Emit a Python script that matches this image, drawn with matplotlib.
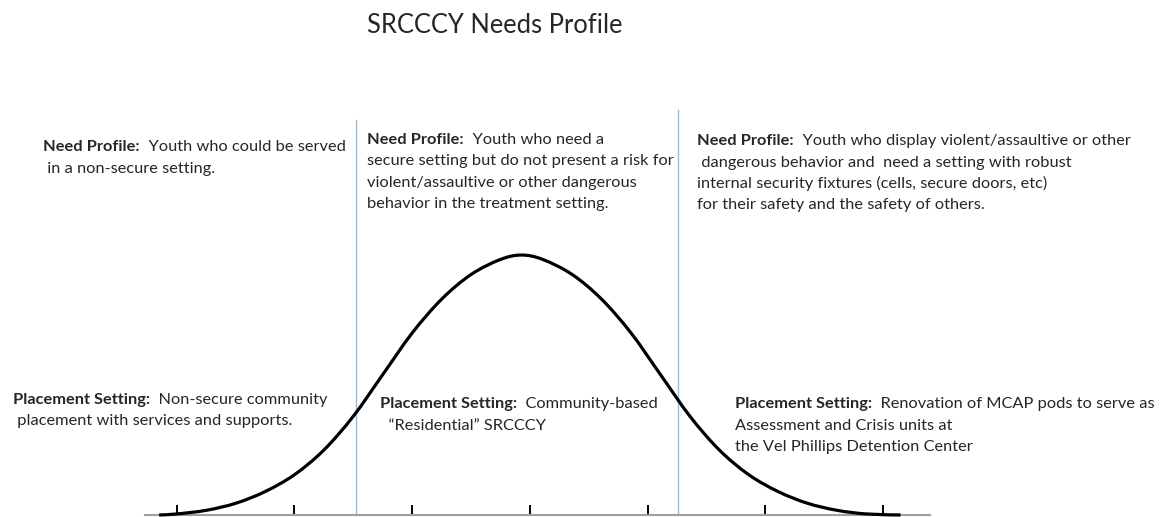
import matplotlib
matplotlib.use('Agg')
import matplotlib.pyplot as plt
from matplotlib.path import Path
from matplotlib.patches import PathPatch

# picture size in pixels
W, H = 1167, 517

# bell curve (x in tick units, y relative to peak)
curve_x = [-3.15, -3.0, -2.75, -2.5, -2.25, -2.0, -1.75, -1.5, -1.25, -1.0, -0.75, -0.5, -0.25,
           -0.07, 0.11, 0.36, 0.61, 0.86, 1.11, 1.36, 1.61, 1.86, 2.11, 2.36, 2.61, 2.86, 3.15]
curve_y = [0.0, 0.004, 0.018, 0.045, 0.09, 0.155, 0.25, 0.38, 0.54, 0.70, 0.83, 0.925, 0.983,
           1.0, 0.983, 0.925, 0.83, 0.70, 0.54, 0.38, 0.25, 0.155, 0.09, 0.045, 0.018, 0.004, 0.0]

tick_positions = [-3, -2, -1, 0, 1, 2, 3]
divider_x = [-1.48, 1.26]
divider_top = [1.519, 1.558]

title = 'SRCCCY Needs Profile'

# (x px, baseline px, bold head, rest of first line, following lines)
blocks = [
    (43, 151, 'Need Profile:', '  Youth who could be served',
     [' in a non-secure setting.']),
    (367, 143.5, 'Need Profile:', '  Youth who need a',
     ['secure setting but do not present a risk for',
      'violent/assaultive or other dangerous',
      'behavior in the treatment setting.']),
    (697, 145, 'Need Profile:', '  Youth who display violent/assaultive or other',
     [' dangerous behavior and  need a setting with robust',
      'internal security fixtures (cells, secure doors, etc)',
      'for their safety and the safety of others.']),
    (13, 404, 'Placement Setting:', '  Non-secure community',
     [' placement with services and supports.']),
    (380, 408, 'Placement Setting:', '  Community-based',
     ['  \u201cResidential\u201d SRCCCY']),
    (735, 408, 'Placement Setting:', '  Renovation of MCAP pods to serve as',
     ['Assessment and Crisis units at',
      'the Vel Phillips Detention Center']),
]


def smooth_path(xs, ys):
    # Catmull-Rom through the read points, drawn as cubic Bezier pieces
    verts = [(xs[0], ys[0])]
    codes = [Path.MOVETO]
    n = len(xs)
    for i in range(n - 1):
        x0, y0 = (xs[i - 1], ys[i - 1]) if i > 0 else (xs[i], ys[i])
        x1, y1 = xs[i], ys[i]
        x2, y2 = xs[i + 1], ys[i + 1]
        x3, y3 = (xs[i + 2], ys[i + 2]) if i + 2 < n else (x2, y2)
        verts += [(x1 + (x2 - x0) / 6, y1 + (y2 - y0) / 6),
                  (x2 - (x3 - x1) / 6, y2 - (y3 - y1) / 6),
                  (x2, y2)]
        codes += [Path.CURVE4] * 3
    return Path(verts, codes)


plt.rcParams['font.family'] = ['Lato', 'DejaVu Sans']
text_color = '#262626'

fig = plt.figure(figsize=(W / 100, H / 100), dpi=100)
fig.patch.set_facecolor('white')

# axis box: axis line runs 145..930 px at y=515, top at 110 px
ax = fig.add_axes([145 / W, (H - 515) / H, 785 / W, (515 - 110) / H])
ax.set_xlim(-3.27, 3.40)
ax.set_ylim(0, 1.558)
ax.add_patch(PathPatch(smooth_path(curve_x, curve_y), fill=False, edgecolor='black',
                       linewidth=2.3, clip_on=False, zorder=3))
for xv, top in zip(divider_x, divider_top):
    ax.plot([xv, xv], [0, top], color='#9dbbd3', linewidth=1.0, clip_on=False)

for side in ['top', 'left', 'right']:
    ax.spines[side].set_visible(False)
ax.spines['bottom'].set_color('#a0a0a0')
ax.spines['bottom'].set_linewidth(1.5)
ax.set_xticks(tick_positions)
ax.set_xticklabels([])
ax.set_yticks([])
ax.tick_params(axis='x', direction='in', length=7.5, width=1.4, color='black')
ax.patch.set_alpha(0)

fig.text(367 / W, 1 - 33 / H, title, fontsize=18.4, color=text_color,
         ha='left', va='baseline')

renderer = fig.canvas.get_renderer()
size = 11.8
dy = 21.5
for x, y, head, first, rest in blocks:
    fx, fy = x / W, 1 - y / H
    t = fig.text(fx, fy, head, fontsize=size, weight='bold', color=text_color,
                 ha='left', va='baseline')
    bb = t.get_window_extent(renderer)
    fig.text(bb.x1 / W, fy, first, fontsize=size, color=text_color,
             ha='left', va='baseline')
    for i, line in enumerate(rest, 1):
        fig.text(fx, 1 - (y + dy * i) / H, line, fontsize=size, color=text_color,
                 ha='left', va='baseline')

fig.savefig('out.png', dpi=100)
